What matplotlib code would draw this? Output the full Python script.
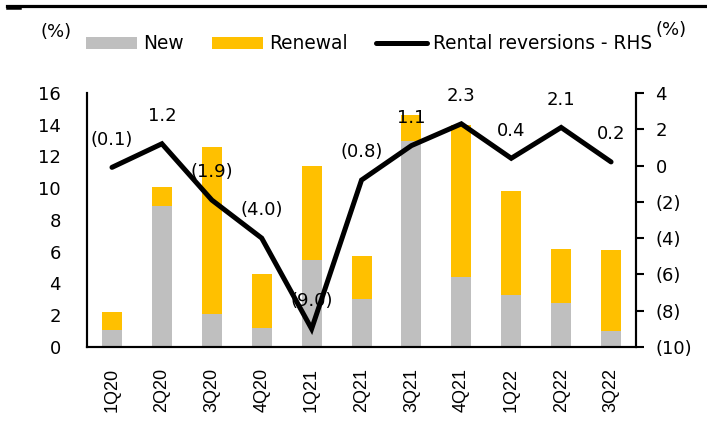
import matplotlib
matplotlib.use("Agg")
import matplotlib.pyplot as plt
from matplotlib.lines import Line2D
from matplotlib.ticker import FuncFormatter

# Valeurs.
quarters = ["1Q20", "2Q20", "3Q20", "4Q20", "1Q21", "2Q21", "3Q21", "4Q21", "1Q22", "2Q22", "3Q22"]
new_leases = [1.1, 8.9, 2.1, 1.2, 5.5, 3.0, 13.0, 4.4, 3.3, 2.8, 1.0]
renewals = [1.1, 1.2, 10.5, 3.4, 5.9, 2.7, 1.6, 9.6, 6.5, 3.4, 5.1]
reversions = [-0.1, 1.2, -1.9, -4.0, -9.0, -0.8, 1.1, 2.3, 0.4, 2.1, 0.2]

GREY = "#BFBFBF"
GOLD = "#FFC000"
FONT = "DejaVu Sans"
FS = 13


def paren(value, decimals):
    """Négatifs entre parenthèses, comme dans le rapport."""
    text = f"{abs(value):.{decimals}f}"
    return f"({text})" if value < 0 else text


fig = plt.figure(figsize=(7.07, 4.23), dpi=100)
ax = fig.add_axes([0.1231, 0.1797, 0.7765, 0.6005])
ax2 = ax.twinx()

x = range(len(quarters))
ax.bar(x, new_leases, width=0.4, color=GREY, label="New", zorder=2)
ax.bar(x, renewals, width=0.4, bottom=new_leases, color=GOLD, label="Renewal", zorder=2)
ax2.plot(x, reversions, color="black", lw=3.6, solid_capstyle="round",
         solid_joinstyle="miter", label="Rental reversions - RHS")

for xi, val in zip(x, reversions):
    ax2.annotate(paren(val, 1), (xi, val), xytext=(0, 20), textcoords="offset points",
                 ha="center", va="center", fontsize=FS, family=FONT)

ax.set_xlim(-0.5, len(quarters) - 0.5)
ax.set_ylim(0, 16)
ax.set_yticks(range(0, 17, 2))
ax2.set_ylim(-10, 4)
ax2.set_yticks(range(-10, 5, 2))
ax2.yaxis.set_major_formatter(FuncFormatter(lambda v, _: paren(v, 0)))

ax.set_xticks(list(x))
ax.set_xticklabels(quarters, rotation=90, fontsize=13, family="Liberation Sans")
ax.tick_params(axis="x", length=0, pad=15)
ax.tick_params(axis="y", length=0, pad=19, labelsize=FS)
ax2.tick_params(axis="y", length=6, width=1.5, pad=8, labelsize=FS, direction="out")
for lab in ax.get_yticklabels() + ax2.get_yticklabels():
    lab.set_family(FONT)

for axis in (ax, ax2):
    axis.spines["top"].set_visible(False)
    for side in ("left", "right", "bottom"):
        axis.spines[side].set_linewidth(1.5)

handles = ax.get_legend_handles_labels()[0] + ax2.get_legend_handles_labels()[0]
labels = ["New", "Renewal", "Rental reversions - RHS"]
fig.legend(handles, labels, loc="center left", bbox_to_anchor=(86 / 707, 0.896), ncol=3,
           frameon=False, borderpad=0, borderaxespad=0, handlelength=2.75, handleheight=0.62,
           handletextpad=0.33, columnspacing=1.5, prop={"family": FONT, "size": 13.4})

fig.text(56 / 707, 1 - 32 / 423, "(%)", ha="center", va="center", fontsize=FS, family=FONT)
fig.text(671 / 707, 1 - 30 / 423, "(%)", ha="center", va="center", fontsize=FS, family=FONT)

# Filet noir en haut de la figure.
fig.add_artist(Line2D([7 / 707, 1], [1 - 5.8 / 423] * 2, color="black", lw=2.3))
fig.add_artist(Line2D([7 / 707, 20 / 707], [1 - 8.5 / 423] * 2, color="black", lw=1.8))

fig.savefig("out.png", dpi=100)
